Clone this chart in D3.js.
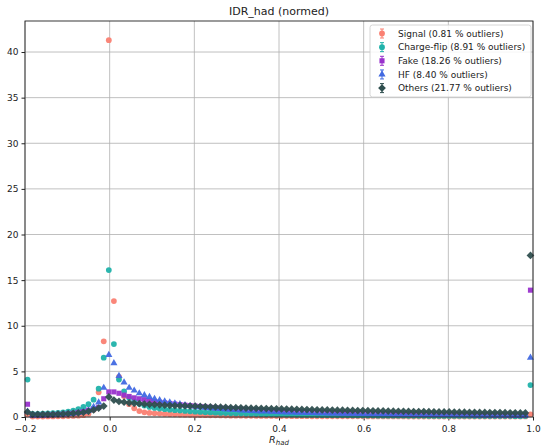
<!DOCTYPE html>
<html>
<head>
<meta charset="utf-8">
<script src="https://cdn.jsdelivr.net/npm/d3@7"></script>
<style>
  body { margin: 0; background: #fff; }
  text { font-family: "DejaVu Sans", sans-serif; }
</style>
</head>
<body>
<svg id="chart" width="542" height="448"></svg>
<script>
"use strict";

// bins: 100 bins from -0.2 to 1.0
const binLow = -0.2;
const binWidth = 0.012;
const nBins = 100;

const xTicks = [-0.2, 0.0, 0.2, 0.4, 0.6, 0.8, 1.0];
const yTicks = [0, 5, 10, 15, 20, 25, 30, 35, 40];

const seriesNames = [
  "Signal (0.81 % outliers)",
  "Charge-flip (8.91 % outliers)",
  "Fake (18.26 % outliers)",
  "HF (8.40 % outliers)",
  "Others (21.77 % outliers)"
];

const signalVals = [
  0.3, 0.05, 0.05, 0.05, 0.06, 0.06, 0.07, 0.08, 0.1, 0.12,
  0.15, 0.2, 0.35, 0.8, 2.7, 8.3, 41.3, 12.7, 4.4, 2.3,
  1.4, 0.95, 0.65, 0.52, 0.45, 0.4, 0.37, 0.34, 0.31, 0.29,
  0.27, 0.25, 0.24, 0.22, 0.21, 0.2, 0.19, 0.18, 0.17, 0.16,
  0.15, 0.15, 0.14, 0.13, 0.13, 0.12, 0.12, 0.11, 0.11, 0.1,
  0.1, 0.1, 0.09, 0.09, 0.09, 0.09, 0.08, 0.08, 0.08, 0.08,
  0.08, 0.07, 0.07, 0.07, 0.07, 0.07, 0.07, 0.06, 0.06, 0.06,
  0.06, 0.06, 0.06, 0.06, 0.06, 0.05, 0.05, 0.05, 0.05, 0.05,
  0.05, 0.05, 0.05, 0.05, 0.05, 0.05, 0.05, 0.05, 0.05, 0.05,
  0.05, 0.05, 0.05, 0.05, 0.05, 0.05, 0.05, 0.05, 0.06, 0.3
];

const chargeFlipVals = [
  4.1, 0.35, 0.35, 0.38, 0.4, 0.42, 0.45, 0.5, 0.58, 0.7,
  0.87, 1.1, 1.4, 1.9, 3.1, 6.5, 16.1, 8.0, 4.1, 2.8,
  2.1, 1.7, 1.45, 1.25, 1.1, 1.0, 0.92, 0.85, 0.8, 0.75,
  0.7, 0.66, 0.62, 0.58, 0.55, 0.52, 0.5, 0.47, 0.45, 0.43,
  0.41, 0.39, 0.37, 0.35, 0.34, 0.32, 0.31, 0.3, 0.29, 0.28,
  0.27, 0.26, 0.25, 0.24, 0.23, 0.22, 0.22, 0.21, 0.2, 0.2,
  0.19, 0.19, 0.18, 0.18, 0.17, 0.17, 0.16, 0.16, 0.16, 0.15,
  0.15, 0.15, 0.14, 0.14, 0.14, 0.13, 0.13, 0.13, 0.13, 0.12,
  0.12, 0.12, 0.12, 0.11, 0.11, 0.11, 0.11, 0.11, 0.1, 0.1,
  0.1, 0.1, 0.1, 0.1, 0.1, 0.1, 0.09, 0.09, 0.1, 3.5
];

const fakeVals = [
  1.4, 0.2, 0.2, 0.2, 0.22, 0.25, 0.28, 0.3, 0.35, 0.4,
  0.5, 0.6, 0.75, 0.9, 1.05, 2.0, 2.75, 2.75, 2.6, 2.4,
  2.25, 2.1, 2.0, 1.9, 1.8, 1.7, 1.62, 1.55, 1.48, 1.42,
  1.36, 1.3, 1.25, 1.2, 1.15, 1.1, 1.06, 1.02, 0.98, 0.95,
  0.92, 0.89, 0.86, 0.83, 0.8, 0.77, 0.74, 0.72, 0.7, 0.68,
  0.66, 0.64, 0.62, 0.6, 0.58, 0.56, 0.54, 0.53, 0.51, 0.5,
  0.48, 0.47, 0.46, 0.45, 0.44, 0.43, 0.42, 0.41, 0.4, 0.39,
  0.38, 0.37, 0.36, 0.35, 0.34, 0.33, 0.32, 0.32, 0.31, 0.3,
  0.3, 0.29, 0.28, 0.28, 0.27, 0.27, 0.26, 0.26, 0.25, 0.25,
  0.24, 0.24, 0.23, 0.23, 0.22, 0.22, 0.22, 0.21, 0.22, 13.9
];

const hfVals = [
  0.6, 0.2, 0.2, 0.2, 0.22, 0.24, 0.26, 0.3, 0.33, 0.38,
  0.45, 0.55, 0.7, 1.1, 1.6, 3.2, 6.8, 5.9, 4.5, 3.8,
  3.2, 2.9, 2.6, 2.4, 2.2, 2.0, 1.85, 1.7, 1.6, 1.5,
  1.4, 1.3, 1.22, 1.15, 1.08, 1.02, 0.97, 0.92, 0.88, 0.84,
  0.8, 0.76, 0.73, 0.7, 0.67, 0.64, 0.62, 0.6, 0.57, 0.55,
  0.53, 0.51, 0.5, 0.48, 0.46, 0.45, 0.44, 0.42, 0.41, 0.4,
  0.39, 0.38, 0.37, 0.36, 0.35, 0.34, 0.33, 0.32, 0.32, 0.31,
  0.3, 0.3, 0.29, 0.28, 0.28, 0.27, 0.27, 0.26, 0.26, 0.25,
  0.25, 0.24, 0.24, 0.23, 0.23, 0.22, 0.22, 0.22, 0.21, 0.21,
  0.2, 0.2, 0.2, 0.19, 0.19, 0.19, 0.18, 0.18, 0.19, 6.5
];

const othersVals = [
  0.55, 0.3, 0.3, 0.3, 0.3, 0.3, 0.32, 0.34, 0.36, 0.4,
  0.45, 0.52, 0.62, 0.78, 0.98, 1.2, 2.2, 1.85, 1.7, 1.62,
  1.56, 1.5, 1.46, 1.42, 1.39, 1.36, 1.33, 1.3, 1.28, 1.26,
  1.24, 1.22, 1.2, 1.18, 1.16, 1.14, 1.12, 1.1, 1.08, 1.06,
  1.04, 1.02, 1.0, 0.98, 0.97, 0.95, 0.94, 0.92, 0.91, 0.9,
  0.88, 0.87, 0.86, 0.84, 0.83, 0.82, 0.8, 0.79, 0.78, 0.77,
  0.76, 0.75, 0.74, 0.73, 0.72, 0.71, 0.7, 0.69, 0.68, 0.67,
  0.66, 0.65, 0.64, 0.63, 0.62, 0.61, 0.6, 0.6, 0.59, 0.58,
  0.57, 0.56, 0.56, 0.55, 0.54, 0.53, 0.53, 0.52, 0.51, 0.5,
  0.5, 0.49, 0.48, 0.48, 0.47, 0.46, 0.46, 0.45, 0.44, 17.7
];

const allVals = [signalVals, chargeFlipVals, fakeVals, hfVals, othersVals];
const colors = ["#fa8072", "#20b2aa", "#9932cc", "#4169e1", "#2f4f4f"];
const shapes = ["circle", "circle", "square", "triangle", "diamond"];
const sizes = [26, 26, 26, 22, 30];

// Dimensiones
const width = 542, height = 448;
const margin = { top: 21, right: 9, bottom: 31, left: 25 };

const binCenters = d3.range(nBins).map(i => binLow + binWidth * (i + 0.5));

const x = d3.scaleLinear()
  .domain([-0.2, 1.0])
  .range([margin.left, width - margin.right]);

const y = d3.scaleLinear()
  .domain([0, 43.4])
  .range([height - margin.bottom, margin.top]);

const svg = d3.select("#chart");

// Grid
svg.append("g")
  .selectAll("line")
  .data(xTicks)
  .join("line")
  .attr("x1", d => x(d)).attr("x2", d => x(d))
  .attr("y1", margin.top).attr("y2", height - margin.bottom)
  .attr("stroke", "#b0b0b0").attr("stroke-width", 0.8);

svg.append("g")
  .selectAll("line")
  .data(yTicks)
  .join("line")
  .attr("x1", margin.left).attr("x2", width - margin.right)
  .attr("y1", d => y(d)).attr("y2", d => y(d))
  .attr("stroke", "#b0b0b0").attr("stroke-width", 0.8);

// Ejes
const fmtX = d => d3.format(".1f")(d).replace("-", "\u2212");

const xAxis = svg.append("g")
  .attr("transform", `translate(0,${height - margin.bottom})`)
  .call(d3.axisBottom(x).tickValues(xTicks).tickFormat(fmtX).tickSize(3.5).tickSizeOuter(0));

const yAxis = svg.append("g")
  .attr("transform", `translate(${margin.left},0)`)
  .call(d3.axisLeft(y).tickValues(yTicks).tickSize(3.5).tickSizeOuter(0));

[xAxis, yAxis].forEach(a => {
  a.select(".domain").remove();
  a.selectAll("text").attr("font-size", 9).attr("fill", "#222")
    .attr("font-family", "DejaVu Sans");
  a.selectAll("line").attr("stroke", "#222");
});
xAxis.selectAll("text").attr("dy", "0.9em");

// Marker
function symbolFor(shape, size) {
  if (shape === "circle") return d3.symbol(d3.symbolCircle, size)();
  if (shape === "triangle") return d3.symbol(d3.symbolTriangle, size)();
  return d3.symbol(d3.symbolSquare, size)();
}

allVals.forEach((vals, s) => {
  svg.append("g")
    .selectAll("path")
    .data(vals)
    .join("path")
    .attr("d", symbolFor(shapes[s], sizes[s]))
    .attr("transform", (d, i) => `translate(${x(binCenters[i])},${y(d)})` +
      (shapes[s] === "diamond" ? " rotate(45)" : ""))
    .attr("fill", colors[s])
    .attr("opacity", 0.95);
});

// Marco
svg.append("rect")
  .attr("x", margin.left).attr("y", margin.top)
  .attr("width", width - margin.left - margin.right)
  .attr("height", height - margin.top - margin.bottom)
  .attr("fill", "none").attr("stroke", "#222").attr("stroke-width", 0.9);

// Titulo
svg.append("text")
  .attr("x", (margin.left + width - margin.right) / 2)
  .attr("y", 15)
  .attr("text-anchor", "middle")
  .attr("font-size", 11)
  .attr("fill", "#222")
  .text("IDR_had (normed)");

// Etiqueta eje X
const xl = svg.append("text")
  .attr("x", (margin.left + width - margin.right) / 2)
  .attr("y", 443)
  .attr("text-anchor", "middle")
  .attr("font-size", 9.5)
  .attr("fill", "#222");
xl.append("tspan").attr("font-style", "italic").text("R");
xl.append("tspan").attr("font-style", "italic").attr("font-size", 7).attr("dy", 2).text("had");

// Leyenda
const leg = svg.append("g");
leg.append("rect")
  .attr("x", 370).attr("y", 25).attr("width", 161).attr("height", 72)
  .attr("rx", 2.5)
  .attr("fill", "#fff").attr("fill-opacity", 0.85)
  .attr("stroke", "#ccc").attr("stroke-width", 0.8);

seriesNames.forEach((name, s) => {
  const ly = 33.5 + s * 13.65;
  const g = leg.append("g");
  g.append("line")
    .attr("x1", 382).attr("x2", 382).attr("y1", ly - 4.5).attr("y2", ly + 4.5)
    .attr("stroke", colors[s]).attr("stroke-width", 1);
  g.append("line")
    .attr("x1", 380).attr("x2", 384).attr("y1", ly - 4.5).attr("y2", ly - 4.5)
    .attr("stroke", colors[s]).attr("stroke-width", 1);
  g.append("line")
    .attr("x1", 380).attr("x2", 384).attr("y1", ly + 4.5).attr("y2", ly + 4.5)
    .attr("stroke", colors[s]).attr("stroke-width", 1);
  g.append("path")
    .attr("d", symbolFor(shapes[s], sizes[s]))
    .attr("transform", `translate(382,${ly})` + (shapes[s] === "diamond" ? " rotate(45)" : ""))
    .attr("fill", colors[s]);
  g.append("text")
    .attr("x", 398).attr("y", ly)
    .attr("dy", "0.35em")
    .attr("font-size", 9)
    .attr("fill", "#222")
    .text(name);
});
</script>
</body>
</html>
